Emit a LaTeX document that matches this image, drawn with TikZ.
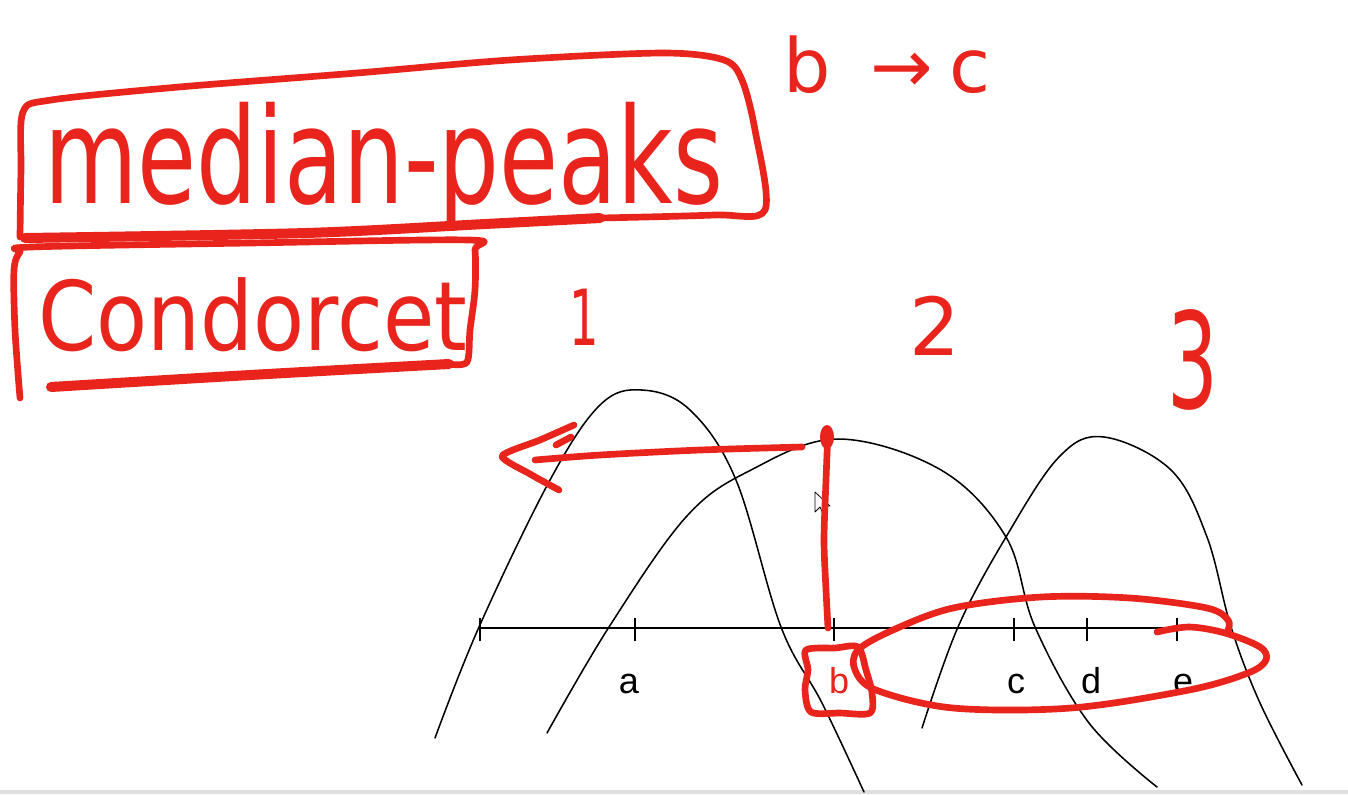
\documentclass[tikz,border=0pt]{standalone}
\usepackage{fontspec}
\setmainfont{Liberation Sans}
\newfontfamily\handfont{DejaVu Sans}
\definecolor{inkred}{RGB}{232,36,28}
\begin{document}
\begin{tikzpicture}[x=0.75pt,y=-0.75pt,
  curve/.style={black,line width=1.15pt,line cap=round},
  axisline/.style={black,line width=2.1pt},
  tickmark/.style={black,line width=1.6pt},
  ink/.style={inkred,line width=5pt,line cap=round,line join=round},
  thickink/.style={inkred,line width=7.5pt,line cap=round,line join=round},
  axislabel/.style={font=\fontsize{27}{27}\selectfont,anchor=base,inner sep=0pt},
  handtext/.style={inkred,inner sep=0pt,anchor=base west}]
\useasboundingbox (0,0) rectangle (1348,794);
\fill[white] (0,0) rectangle (1348,794);
\fill[black!12] (0,790) rectangle (1348,794);

% black bell curves
\draw[curve] plot[smooth,tension=0.6] coordinates {(435,738) (479,627) (550,480) (600,405) (642,390) (690,410) (736,480) (781,627) (822,703) (864,792)};
\draw[curve] plot[smooth,tension=0.6] coordinates {(547,733) (609,627) (686,517) (751,470) (838,439) (941,470) (1006,537) (1035,627) (1089,723) (1157,787)};
\draw[curve] plot[smooth,tension=0.6] coordinates {(922,728) (958,627) (1006,537) (1059,457) (1104,437) (1171,470) (1207,537) (1231,627) (1260,703) (1302,785)};

% axis with ticks
\draw[axisline] (480,628) -- (1177,628);
\foreach \tx in {480,635,834,1014,1087,1177}
  \draw[tickmark] (\tx,618) -- (\tx,641);
\node[axislabel] (la) at (629,693) {a};
\node[axislabel,text=inkred] (lb) at (839,693) {b};
\node[axislabel] (lc) at (1016,693) {c};
\node[axislabel] (ld) at (1091,693) {d};
\node[axislabel] (le) at (1183,693) {e};

% mouse cursor
\draw[black,fill=white,line width=0.6pt,line join=round] (815,492) -- (815,512) -- (820,507) -- (824,516) -- (827,515) -- (823,506) -- (830,506) -- cycle;

% handwritten texts
\node[handtext,font=\handfont\fontsize{100}{100}\selectfont] (median) at (44,203) {\scalebox{0.72}[1]{median-peaks}};
\node[handtext,font=\handfont\fontsize{72}{72}\selectfont] (condorcet) at (38,350) {\scalebox{0.87}[1]{Condorcet}};
\node[handtext,font=\handfont\fontsize{56}{56}\selectfont] (bc) at (783,92) {b\hspace{30pt}→\hspace{12pt}c};
\node[handtext,anchor=base,font=\handfont\fontsize{58}{58}\selectfont] (one) at (584,345) {\scalebox{0.6}[1]{1}};
\node[handtext,anchor=base,font=\handfont\fontsize{60}{60}\selectfont] (two) at (935,355) {2};
\node[handtext,anchor=base,font=\handfont\fontsize{100}{100}\selectfont] (three) at (1193,408) {\scalebox{0.6}[1]{3}};

% box around median-peaks
\draw[ink] plot[smooth,tension=0.5] coordinates {(20,237) (21,170) (23,112) (51,100) (179,87) (357,73) (510,60) (663,53) (724,60) (742,80) (755,130) (765,210) (714,215) (600,218)};
\draw[thickink] plot[smooth,tension=0.5] coordinates {(600,218) (485,224) (306,233) (25,238)};
% box around Condorcet
\draw[ink] plot[smooth,tension=0.5] coordinates {(20,398) (15,330) (14,270) (20,252) (31,247) (250,243) (469,240) (475,250) (475,290) (470,330) (467,362) (449,364)};
\draw[thickink] plot[smooth,tension=0.5] coordinates {(449,364) (250,375) (51,387)};

% red arrow to the left from peak b
\fill[inkred] (827,437) ellipse [x radius=7,y radius=12];
\draw[ink] plot[smooth,tension=0.5] coordinates {(828,430) (826,480) (824,540) (826,590) (828,628)};
\draw[ink] plot[smooth,tension=0.5] coordinates {(802,447) (700,450) (600,455) (535,460)};
\draw[ink] plot[smooth,tension=0.4] coordinates {(574,425) (540,440) (502,456) (530,474) (559,490)};
\draw[ink] (571,437) -- (556,445);

% box around b
\draw[ink] plot[smooth cycle,tension=0.5] coordinates {(806,650) (835,648) (858,647) (866,670) (872,693) (870,713) (840,713) (811,712) (805,690) (808,670)};

% loop around c, d, e
\draw[ink] plot[smooth,tension=0.55] coordinates {(1157,632) (1189,627) (1225,633) (1260,647) (1266,660) (1248,673) (1189,690) (1071,708) (953,708) (876,690) (855,670) (858,650) (893,630) (953,608) (1041,597) (1130,598) (1207,608) (1228,620) (1228,630)};
\end{tikzpicture}
\end{document}
